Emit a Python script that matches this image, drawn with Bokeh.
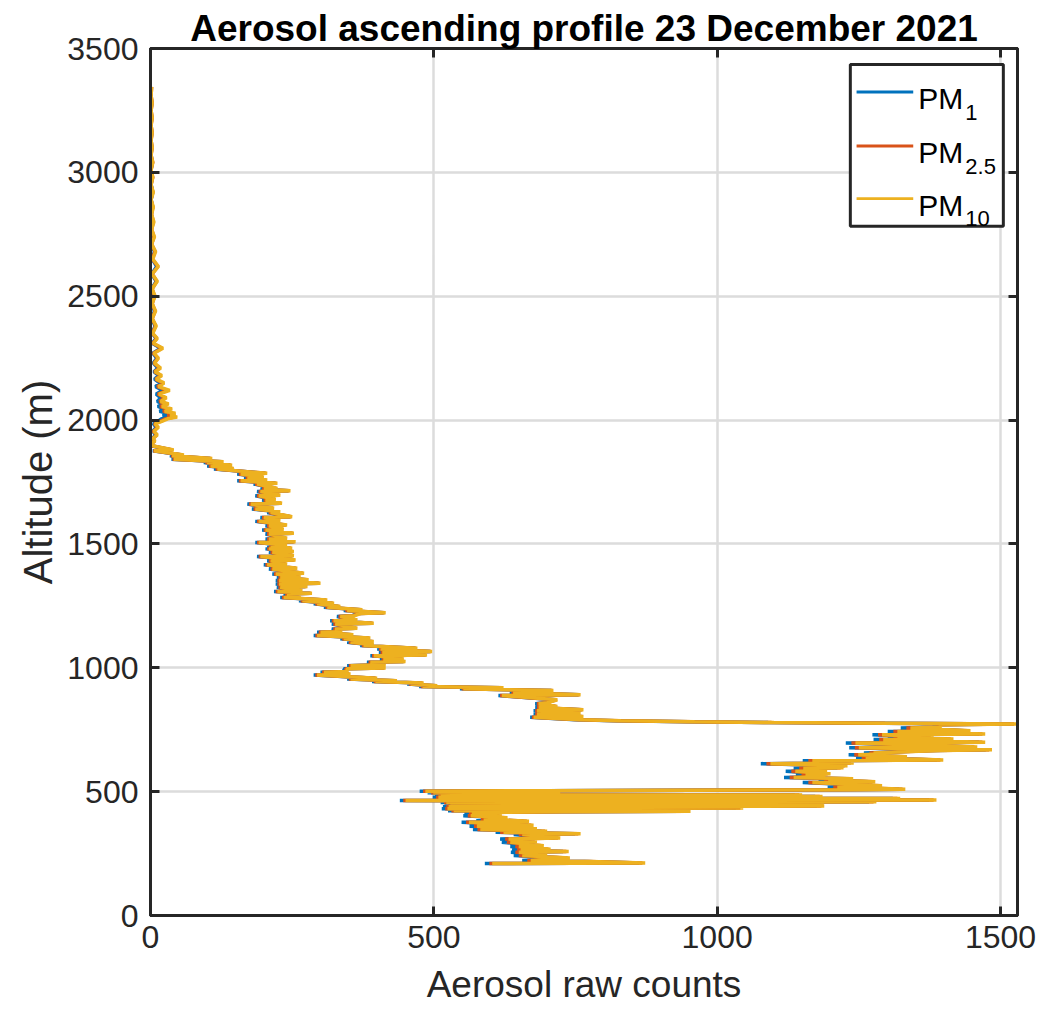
from bokeh.plotting import figure
from bokeh.models import Range1d, LinearAxis, FixedTicker, BoxAnnotation, Label, Title
from bokeh.embed import file_html
from bokeh.resources import INLINE

# ---------------- data ----------------
# 200-420 m
alt_low = [210, 212, 218, 222, 232, 242, 246, 255, 258, 263,
           267, 279, 282, 296, 299, 309, 313, 327, 330, 336,
           340, 347, 350, 360, 364, 376, 380, 390, 395, 403,
           407, 414, 417]
pm10_low = [603, 873, 776, 671, 740, 656, 700, 650, 738, 653,
            706, 650, 694, 635, 682, 632, 723, 656, 759, 623,
            700, 582, 682, 576, 676, 562, 668, 588, 630, 565,
            620, 567, 630]
pm25_low = [598, 868, 772, 665, 736, 650, 696, 644, 734, 647,
            702, 644, 690, 629, 678, 626, 719, 650, 755, 617,
            696, 577, 678, 571, 672, 557, 664, 583, 626, 560,
            616, 562, 626]
pm1_low = [590, 862, 766, 656, 730, 641, 690, 636, 728, 638,
           696, 635, 684, 620, 672, 617, 713, 641, 749, 609,
           690, 569, 672, 563, 666, 549, 658, 575, 620, 552,
           610, 554, 620]

# 420-505 m (dense band)
alt_band = [419, 421, 423, 426, 431, 434, 439, 442, 448, 451,
            456, 459, 464, 466, 470, 472, 477, 480, 484, 486,
            488, 490, 496, 498, 502, 504]
pm10_band = [729, 953, 535, 946, 524, 1046, 526, 1189, 529, 1188,
             522, 1281, 450, 1387, 522, 1323, 508, 1186, 522, 1150,
             512, 702, 499, 723, 485, 704]
pm25_band = [724, 948, 531, 941, 520, 1041, 522, 1184, 525, 1183,
             518, 1276, 446, 1382, 518, 1318, 504, 1181, 518, 1145,
             508, 698, 495, 719, 481, 700]
pm1_band = [716, 940, 525, 933, 514, 1033, 516, 1176, 519, 1175,
            512, 1268, 440, 1374, 512, 1310, 498, 1173, 512, 1137,
            502, 692, 489, 713, 475, 694]

# 505-790 m (high-count layer)
alt_high = [508, 510, 520, 524, 537, 540, 548, 552, 557, 560,
            568, 572, 582, 585, 593, 596, 602, 605, 613, 616,
            625, 628, 638, 641, 649, 652, 656, 660, 666, 669,
            677, 680, 696, 699, 710, 713, 718, 721, 730, 733,
            743, 746, 757, 760, 770, 773, 776, 779, 782, 786,
            790]
pm10_high = [1229, 1332, 1212, 1291, 1168, 1279, 1196, 1240, 1135, 1191,
             1156, 1200, 1138, 1194, 1152, 1223, 1182, 1230, 1094, 1241,
             1168, 1399, 1262, 1335, 1249, 1288, 1276, 1318, 1394, 1485,
             1250, 1459, 1244, 1473, 1293, 1417, 1318, 1382, 1291, 1473,
             1318, 1447, 1341, 1394, 1394, 1529, 1300, 1100, 960, 830,
             760]
pm25_high = [1222, 1327, 1205, 1286, 1161, 1274, 1189, 1235, 1128, 1186,
             1149, 1195, 1131, 1189, 1145, 1218, 1175, 1225, 1087, 1236,
             1161, 1394, 1255, 1330, 1242, 1283, 1269, 1313, 1387, 1480,
             1243, 1454, 1237, 1468, 1286, 1412, 1311, 1377, 1284, 1468,
             1311, 1442, 1334, 1389, 1389, 1524, 1296, 1096, 956, 826,
             756]
pm1_high = [1212, 1321, 1195, 1280, 1151, 1268, 1179, 1229, 1118, 1180,
            1139, 1189, 1121, 1183, 1135, 1212, 1165, 1219, 1077, 1230,
            1151, 1388, 1245, 1324, 1232, 1277, 1259, 1307, 1377, 1474,
            1233, 1448, 1227, 1462, 1276, 1406, 1301, 1371, 1274, 1462,
            1301, 1436, 1324, 1383, 1383, 1518, 1290, 1090, 950, 820,
            750]

# 800-1200 m
alt_mid = [800, 803, 813, 817, 827, 831, 840, 844, 855, 859,
           871, 888, 891, 900, 908, 915, 919, 924, 927, 935,
           939, 945, 948, 955, 958, 971, 975, 982, 985, 996,
           999, 1008, 1012, 1022, 1025, 1036, 1039, 1049, 1052, 1063,
           1066, 1076, 1079, 1090, 1093, 1103, 1106, 1117, 1120, 1130,
           1133, 1143, 1146, 1157, 1160, 1177, 1180, 1190, 1193]
pm10_mid = [676, 764, 682, 759, 682, 764, 685, 718, 685, 700,
            718, 620, 759, 640, 711, 552, 623, 480, 506, 459,
            482, 397, 435, 353, 400, 294, 353, 306, 347, 347,
            415, 353, 415, 388, 450, 411, 447, 394, 488, 409,
            497, 406, 471, 376, 394, 353, 394, 341, 388, 294,
            358, 300, 338, 326, 365, 326, 394, 323, 365]
pm25_mid = [673, 762, 679, 757, 679, 762, 682, 716, 682, 698,
            716, 617, 757, 637, 709, 549, 621, 477, 504, 456,
            480, 394, 433, 350, 398, 291, 351, 303, 345, 344,
            413, 350, 413, 385, 448, 408, 445, 391, 486, 406,
            495, 403, 469, 373, 392, 350, 392, 338, 386, 291,
            356, 297, 336, 323, 363, 323, 392, 320, 363]
pm1_mid = [670, 760, 676, 755, 676, 760, 679, 714, 679, 696,
           714, 614, 755, 634, 707, 546, 619, 474, 502, 453,
           478, 391, 431, 347, 396, 288, 349, 300, 343, 341,
           411, 347, 411, 382, 446, 405, 443, 388, 484, 403,
           493, 400, 467, 370, 390, 347, 390, 335, 384, 288,
           354, 294, 334, 320, 361, 320, 390, 317, 361]

# 1200-1900 m
alt_upper = [1207, 1210, 1219, 1222, 1231, 1234, 1244, 1247, 1258, 1261,
             1271, 1274, 1284, 1287, 1298, 1301, 1308, 1311, 1325, 1328,
             1338, 1341, 1352, 1355, 1365, 1368, 1379, 1382, 1399, 1402,
             1416, 1419, 1432, 1435, 1449, 1452, 1466, 1469, 1480, 1483,
             1493, 1496, 1506, 1509, 1520, 1523, 1540, 1543, 1556, 1559,
             1573, 1576, 1591, 1594, 1607, 1610, 1627, 1630, 1641, 1644,
             1661, 1664, 1677, 1680, 1694, 1697, 1712, 1715, 1721, 1724,
             1742, 1745, 1755, 1758, 1766, 1769, 1782, 1785, 1802, 1805,
             1815, 1818, 1829, 1832, 1842, 1845, 1856, 1859, 1876, 1879,
             1895]
pm10_upper = [335, 359, 371, 415, 347, 374, 312, 335, 294, 324,
              268, 312, 235, 265, 241, 285, 224, 268, 229, 277,
              227, 300, 227, 279, 229, 265, 221, 271, 215, 259,
              206, 241, 212, 256, 194, 253, 215, 253, 209, 250,
              212, 241, 191, 256, 209, 241, 209, 253, 203, 235,
              209, 241, 191, 229, 200, 250, 212, 229, 185, 218,
              177, 232, 203, 221, 191, 229, 194, 247, 200, 224,
              188, 224, 159, 206, 171, 200, 159, 206, 118, 147,
              106, 144, 100, 129, 41, 109, 38, 59, 6, 41,
              5]
pm25_upper = [332, 357, 368, 413, 344, 372, 309, 333, 291, 322,
              265, 310, 232, 263, 238, 283, 221, 266, 226, 275,
              224, 298, 224, 277, 226, 263, 218, 269, 212, 257,
              203, 239, 209, 254, 191, 251, 212, 251, 206, 248,
              209, 239, 188, 254, 206, 239, 206, 251, 200, 233,
              206, 239, 188, 227, 197, 248, 209, 227, 182, 216,
              174, 230, 200, 219, 188, 227, 191, 245, 197, 222,
              185, 222, 156, 204, 168, 198, 156, 204, 115, 145,
              103, 142, 97, 127, 39, 107, 36, 57, 5, 39,
              4]
pm1_upper = [329, 355, 365, 411, 341, 370, 306, 331, 288, 320,
             262, 308, 229, 261, 235, 281, 218, 264, 223, 273,
             221, 296, 221, 275, 223, 261, 215, 267, 209, 255,
             200, 237, 206, 252, 188, 249, 209, 249, 203, 246,
             206, 237, 185, 252, 203, 237, 203, 249, 197, 231,
             203, 237, 185, 225, 194, 246, 206, 225, 179, 214,
             171, 228, 197, 217, 185, 225, 188, 243, 194, 220,
             182, 220, 153, 202, 165, 196, 153, 202, 112, 143,
             100, 140, 94, 125, 37, 105, 34, 55, 4, 37,
             3]

# 1900-3350 m
alt_top = [1905, 1915, 1925, 1940, 1955, 1970, 1985, 1995, 2005, 2012,
           2020, 2028, 2035, 2045, 2055, 2065, 2075, 2090, 2105, 2120,
           2135, 2150, 2165, 2180, 2195, 2210, 2230, 2250, 2270, 2290,
           2310, 2330, 2350, 2380, 2410, 2440, 2470, 2500, 2530, 2560,
           2590, 2620, 2650, 2680, 2710, 2740, 2770, 2800, 2830, 2860,
           2890, 2920, 2950, 2980, 3010, 3040, 3070, 3100, 3130, 3160,
           3190, 3220, 3250, 3280, 3310, 3345]
pm10_top = [2, 8, 4, 12, 6, 14, 8, 20, 30, 47,
            35, 44, 25, 38, 20, 32, 18, 28, 15, 34,
            14, 24, 10, 20, 8, 18, 7, 14, 6, 22,
            5, 12, 4, 10, 3, 9, 3, 8, 3, 12,
            3, 14, 4, 9, 2, 7, 2, 6, 2, 5,
            1, 5, 1, 4, 1, 4, 1, 3, 1, 3,
            1, 3, 1, 3, 1, 2]
pm25_top = [2, 7, 4, 11, 5, 12, 7, 17, 26, 42,
            30, 39, 22, 33, 17, 28, 16, 25, 13, 30,
            12, 21, 9, 18, 7, 16, 6, 13, 5, 20,
            4, 11, 3, 9, 3, 8, 3, 7, 3, 11,
            3, 13, 3, 8, 2, 6, 2, 5, 2, 4,
            1, 4, 1, 4, 1, 4, 1, 3, 1, 3,
            1, 3, 1, 3, 1, 2]
pm1_top = [1, 6, 3, 9, 4, 10, 5, 13, 19, 30,
           22, 28, 16, 24, 13, 21, 12, 18, 10, 22,
           9, 16, 7, 14, 6, 13, 5, 11, 4, 18,
           3, 10, 3, 8, 2, 7, 2, 6, 2, 10,
           2, 11, 3, 7, 1, 5, 1, 4, 1, 4,
           1, 4, 1, 3, 1, 3, 1, 2, 1, 2,
           1, 2, 1, 2, 1, 1]

altitude = alt_low + alt_band + alt_high + alt_mid + alt_upper + alt_top
pm10 = pm10_low + pm10_band + pm10_high + pm10_mid + pm10_upper + pm10_top
pm25 = pm25_low + pm25_band + pm25_high + pm25_mid + pm25_upper + pm25_top
pm1 = pm1_low + pm1_band + pm1_high + pm1_mid + pm1_upper + pm1_top

series_names = ["1", "2.5", "10"]
series_colors = ["#0072BD", "#D95319", "#EDB120"]
x_ticks = [0, 500, 1000, 1500]
y_ticks = [0, 500, 1000, 1500, 2000, 2500, 3000, 3500]
x_max = 1530
y_max = 3500

title_text = "Aerosol ascending profile 23 December 2021"
x_label = "Aerosol raw counts"
y_label = "Altitude (m)"

# ---------------- figure ----------------
FONT = "Liberation Sans"
INK = "#262626"

p = figure(width=1060, height=1016, output_backend="svg", toolbar_location=None,
           x_range=Range1d(0, x_max), y_range=Range1d(0, y_max),
           min_border_left=150, min_border_right=43,
           min_border_top=48, min_border_bottom=100)

p.title.text = title_text
p.title.text_font = FONT
p.title.text_font_size = "37px"
p.title.text_font_style = "bold"
p.title.text_color = "#000000"
p.title.align = "center"
p.title.standoff = 0

p.background_fill_color = "white"
p.border_fill_color = "white"
p.outline_line_color = INK
p.outline_line_width = 3
p.outline_line_alpha = 1

for ax, ticks in ((p.xaxis[0], x_ticks), (p.yaxis[0], y_ticks)):
    ax.ticker = FixedTicker(ticks=ticks)
    ax.minor_tick_line_color = None
    ax.major_tick_in = 9
    ax.major_tick_out = 0
    ax.major_tick_line_width = 3
    ax.major_tick_line_color = INK
    ax.axis_line_color = INK
    ax.axis_line_width = 3
    ax.major_label_text_font = FONT
    ax.major_label_text_font_size = "32px"
    ax.major_label_text_color = INK
    ax.axis_label_text_font = FONT
    ax.axis_label_text_font_style = "normal"
    ax.axis_label_text_color = INK

p.yaxis.axis_label = y_label
p.yaxis.axis_label_text_font_size = "40px"
p.xaxis.major_label_standoff = 10
p.yaxis.major_label_standoff = 12
p.yaxis.axis_label_standoff = 4

# x-axis label as a title panel below the axis (sits lower than an axis label)
p.add_layout(Title(text=x_label, align="center", text_font=FONT,
                   text_font_size="37px", text_font_style="normal",
                   text_color=INK, standoff=23), "below")

# mirrored axes (box on): tick marks only, labels not drawn
for loc, ticks in (("right", y_ticks), ("above", x_ticks)):
    ax = LinearAxis(ticker=FixedTicker(ticks=ticks))
    ax.major_label_text_font_size = "1px"
    ax.major_label_text_color = None
    ax.major_label_standoff = 0
    ax.minor_tick_line_color = None
    ax.major_tick_in = 9
    ax.major_tick_out = 0
    ax.major_tick_line_width = 3
    ax.major_tick_line_color = INK
    ax.axis_line_color = INK
    ax.axis_line_width = 3
    p.add_layout(ax, loc)

p.xgrid.ticker = FixedTicker(ticks=x_ticks)
p.ygrid.ticker = FixedTicker(ticks=y_ticks)
for g in (p.xgrid[0], p.ygrid[0]):
    g.grid_line_color = "#dcdcdc"
    g.grid_line_width = 2.5

p.line(pm1, altitude, line_color=series_colors[0], line_width=3.5)
p.line(pm25, altitude, line_color=series_colors[1], line_width=3.5)
p.line(pm10, altitude, line_color=series_colors[2], line_width=3.5)

# ---------------- legend (MATLAB style, with subscripts) ----------------
p.add_layout(BoxAnnotation(left=1235, right=1505, bottom=2782, top=3435,
                           fill_color="white", fill_alpha=1,
                           line_color=INK, line_width=3, line_alpha=1))
row_y = [3324, 3106, 2894]
for name, color, yy in zip(series_names, series_colors, row_y):
    p.add_layout(BoxAnnotation(left=1246, right=1346, bottom=yy - 6, top=yy + 6,
                               fill_color=color, fill_alpha=1, line_alpha=0))
    p.add_layout(Label(x=1355, y=yy - 27, text="PM", text_font=FONT,
                       text_font_size="30px", text_color="#000000",
                       text_baseline="alphabetic"))
    p.add_layout(Label(x=1438, y=yy - 82, text=name, text_font=FONT,
                       text_font_size="22px", text_color="#000000",
                       text_baseline="alphabetic"))

open("out.html", "w").write(file_html(p, INLINE))
